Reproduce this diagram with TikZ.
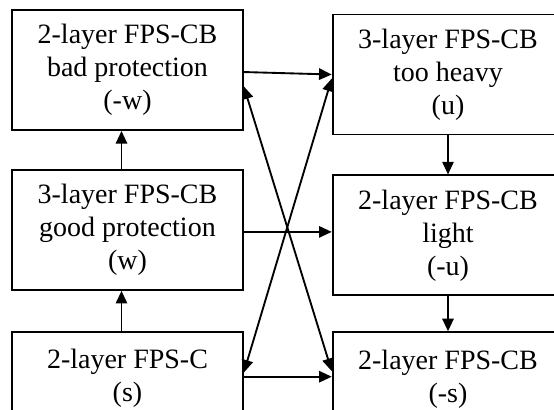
\documentclass[tikz,border=0pt]{standalone}
\usepackage{fontspec}
\setmainfont{Liberation Serif}
\usetikzlibrary{positioning, arrows.meta}

\begin{document}
\begin{tikzpicture}[
    x=0.75pt, y=0.75pt, align=center,
    >={Triangle[length=9.5pt, width=8.5pt]},
    module/.style={rectangle, draw, line width=1.4pt, minimum width=173pt, minimum height=90pt, inner sep=0pt, text centered, font=\fontsize{21}{24.75}\selectfont, fill=white},
    short/.style={module, minimum height=70.5pt},
    arrow/.style={->, line width=1.4pt},
    twoway/.style={<->, line width=1.4pt}
]
\useasboundingbox (0,0) rectangle (554,-410);
\clip (0,0) rectangle (554,-410);

% Left column
\node[module] at (127.5,-70) (badProt) {2-layer FPS-CB\\bad protection\\(-w)};
\node[module, below=28.5pt of badProt] (goodProt) {3-layer FPS-CB\\good protection\\(w)};
\node[short, below=30pt of goodProt] (fpsC) {2-layer FPS-C\\(s)};

% Right column
\node[module] at (448,-74.5) (tooHeavy) {3-layer FPS-CB\\too heavy\\(u)};
\node[module, below=29.25pt of tooHeavy] (light) {2-layer FPS-CB\\light\\(-u)};
\node[short, below=26.25pt of light] (fpsCB) {2-layer FPS-CB\\(-s)};

% Arrows
\draw[arrow] ([xshift=-4.5pt]fpsC.north) -- ([xshift=-4.5pt]goodProt.south);
\draw[arrow] ([xshift=-4.5pt]goodProt.north) -- ([xshift=-4.5pt]badProt.south);
\draw[arrow] (tooHeavy) -- (light);
\draw[arrow] (light) -- (fpsCB);
\draw[arrow] (badProt.-1.3) -- (tooHeavy.west);
\draw[arrow] (goodProt.-1) -- (goodProt.-1 -| light.west);
\draw[arrow] (fpsC.1.5) -- (fpsC.1.5 -| fpsCB.west);
\draw[twoway] (badProt.-8.4) -- (fpsCB.176);
\draw[twoway] (fpsC.3.9) -- (tooHeavy.182.7);

\end{tikzpicture}
\end{document}
